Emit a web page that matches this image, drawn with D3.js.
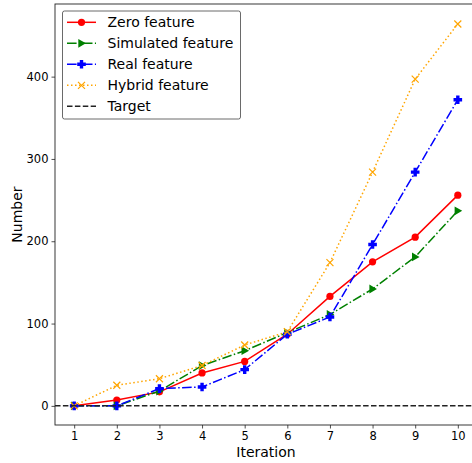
<!DOCTYPE html>
<html>
<head>
<meta charset="utf-8">
<script src="https://cdn.jsdelivr.net/npm/d3@7"></script>
<style>
  body { margin: 0; background: #fff; }
  svg { display: block; font-family: "DejaVu Sans", sans-serif; }
</style>
</head>
<body>
<svg id="chart" width="472" height="463"></svg>
<script>
const iterations = [1, 2, 3, 4, 5, 6, 7, 8, 9, 10];
const zeroFeature = [0, 7, 17, 40, 54, 87, 133, 175, 205, 256];
const simulatedFeature = [0, 0, 18, 49, 67, 89, 111, 142, 181, 237];
const realFeature = [0, 0, 21, 23, 44, 87, 108, 196, 284, 372];
const hybridFeature = [0, 25, 33, 49, 74, 90, 174, 284, 397, 464];
const targetValue = 0;
const yTicks = [0, 100, 200, 300, 400];

const series = [
  { name: "Zero feature", values: zeroFeature, color: "red", dash: null, marker: "circle" },
  { name: "Simulated feature", values: simulatedFeature, color: "green", dash: "9.6,2.4,1.5,2.4", marker: "tri" },
  { name: "Real feature", values: realFeature, color: "blue", dash: "9.6,2.4,1.5,2.4", marker: "plus" },
  { name: "Hybrid feature", values: hybridFeature, color: "orange", dash: "1.5,2.5", marker: "x" }
];

const svg = d3.select("#chart");
const plotL = 55, plotT = 4, plotB = 425, plotR = 477;

const x = d3.scaleLinear().domain([0.55, 10.45]).range([plotL, plotR]);
const y = d3.scaleLinear().domain([-23.25, 488.25]).range([plotB, plotT]);

svg.append("defs").append("clipPath").attr("id", "clip")
  .append("rect").attr("x", plotL).attr("y", plotT).attr("width", plotR - plotL).attr("height", plotB - plotT);

const plot = svg.append("g").attr("clip-path", "url(#clip)");

function drawMarker(g, type, color, px, py) {
  if (type === "circle") {
    g.append("circle").attr("cx", px).attr("cy", py).attr("r", 3.6).attr("fill", color);
  } else if (type === "tri") {
    g.append("path")
      .attr("d", `M${px + 4.4},${py} L${px - 3.2},${py - 4.4} L${px - 3.2},${py + 4.4} Z`)
      .attr("fill", color);
  } else if (type === "plus") {
    const a = 1.7, b = 4.3;
    g.append("path")
      .attr("d", `M${px - a},${py - b} H${px + a} V${py - a} H${px + b} V${py + a} H${px + a} V${py + b} H${px - a} V${py + a} H${px - b} V${py - a} H${px - a} Z`)
      .attr("fill", color);
  } else if (type === "x") {
    const s = 3.5;
    g.append("path")
      .attr("d", `M${px - s},${py - s} L${px + s},${py + s} M${px - s},${py + s} L${px + s},${py - s}`)
      .attr("stroke", color).attr("stroke-width", 1.2).attr("fill", "none");
  }
}

const line = d3.line().x((d, i) => x(iterations[i])).y(d => y(d));

series.forEach(s => {
  const g = plot.append("g");
  g.append("path")
    .datum(s.values)
    .attr("d", line)
    .attr("fill", "none")
    .attr("stroke", s.color)
    .attr("stroke-width", 1.5)
    .attr("stroke-dasharray", s.dash);
  s.values.forEach((v, i) => drawMarker(g, s.marker, s.color, x(iterations[i]), y(v)));
});

// target line
plot.append("line")
  .attr("x1", plotL).attr("x2", plotR)
  .attr("y1", y(targetValue)).attr("y2", y(targetValue))
  .attr("stroke", "#222").attr("stroke-width", 1.5)
  .attr("stroke-dasharray", "5.5,2.4");

// axes
const xAxis = svg.append("g").attr("transform", `translate(0,${plotB})`)
  .call(d3.axisBottom(x).tickValues(iterations).tickSize(3.5).tickPadding(3).tickFormat(d3.format("d")));
const yAxis = svg.append("g").attr("transform", `translate(${plotL},0)`)
  .call(d3.axisLeft(y).tickValues(yTicks).tickSize(3.5).tickPadding(3));
[xAxis, yAxis].forEach(a => {
  a.select(".domain").remove();
  a.selectAll("text").attr("font-size", 11.5).attr("fill", "#000").attr("font-family", "DejaVu Sans");
  a.selectAll("line").attr("stroke", "#222").attr("stroke-width", 0.8);
});

// spines
svg.append("rect")
  .attr("x", plotL).attr("y", plotT).attr("width", plotR - plotL).attr("height", plotB - plotT)
  .attr("fill", "none").attr("stroke", "#222").attr("stroke-width", 0.9);

svg.append("text")
  .attr("x", (plotL + plotR) / 2).attr("y", 457)
  .attr("text-anchor", "middle").attr("font-size", 14)
  .text("Iteration");

svg.append("text")
  .attr("transform", `translate(22,${(plotT + plotB) / 2}) rotate(-90)`)
  .attr("text-anchor", "middle").attr("font-size", 14)
  .text("Number");

// legend
const legendItems = series.concat([{ name: "Target", color: "#222", dash: "5.5,2.4", marker: null }]);
const legend = svg.append("g");
legend.append("rect")
  .attr("x", 62.5).attr("y", 11).attr("width", 178).attr("height", 108)
  .attr("rx", 2).attr("fill", "#fff").attr("fill-opacity", 0.8)
  .attr("stroke", "#444").attr("stroke-width", 0.8);
legendItems.forEach((s, i) => {
  const ly = 22.3 + i * 21;
  legend.append("line")
    .attr("x1", 67).attr("x2", 96).attr("y1", ly).attr("y2", ly)
    .attr("stroke", s.color).attr("stroke-width", 1.5)
    .attr("stroke-dasharray", s.dash);
  if (s.marker) drawMarker(legend, s.marker, s.color, 81.5, ly);
  legend.append("text")
    .attr("x", 107.5).attr("y", ly).attr("dy", "0.36em")
    .attr("font-size", 14)
    .text(s.name);
});
</script>
</body>
</html>
